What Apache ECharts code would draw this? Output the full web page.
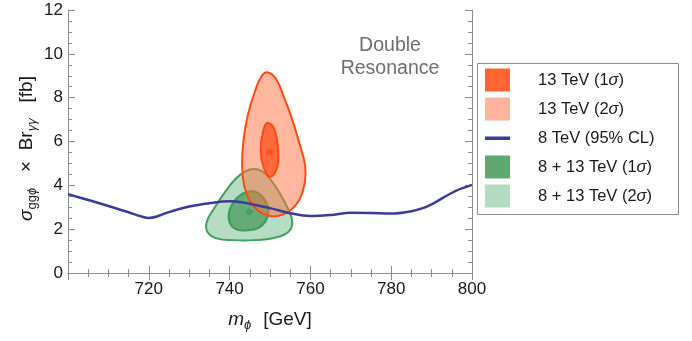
<!DOCTYPE html>
<html>
<head>
<meta charset="utf-8">
<script src="https://cdn.jsdelivr.net/npm/echarts@6/dist/echarts.min.js"></script>
<style>
  html, body { margin: 0; padding: 0; background: #fff; }
  #chart { width: 692px; height: 341px; }
</style>
</head>
<body>
<div id="chart"></div>
<script>
// 数据: m_phi [GeV] 与 sigma x Br [fb]
var massGrid = [700, 705, 710, 715, 718, 720, 722, 725, 730, 735, 740, 743, 746, 750, 755, 760, 765, 770, 775, 780, 785, 788, 790, 793, 796, 800];
var limit8TeV = [3.6, 3.33, 3.06, 2.77, 2.59, 2.51, 2.58, 2.78, 3.03, 3.18, 3.27, 3.23, 3.12, 2.96, 2.73, 2.6, 2.65, 2.75, 2.74, 2.71, 2.82, 2.97, 3.13, 3.45, 3.75, 4.02];

// 13 TeV 等高线
var contour13TeV2s = [[749.5, 9.15], [751.5, 8.85], [753.5, 8.0], [755.5, 7.0], [757.3, 5.9], [758.7, 4.9], [758.6, 4.1], [757.3, 3.35], [755, 2.85], [752, 2.6], [749.5, 2.62], [747, 2.85], [745, 3.3], [743.6, 4.0], [743.1, 4.9], [743.4, 6.0], [744.5, 7.2], [746.3, 8.3], [748, 9.0]];
var contour13TeV1s = [[749.6, 6.85], [751.2, 6.5], [752, 5.6], [751.8, 4.84], [750, 4.38], [748.4, 4.84], [747.7, 5.6], [748.4, 6.55]];
// 8 + 13 TeV 等高线
var contourComb2s = [[746, 4.75], [744, 4.65], [741.5, 4.3], [738.5, 3.6], [736, 2.9], [734.3, 2.3], [734.6, 1.85], [736.8, 1.58], [741, 1.5], [746, 1.5], [751, 1.6], [754.6, 1.88], [755.5, 2.35], [754.4, 2.95], [752.4, 3.65], [750, 4.3], [748, 4.65]];
var contourComb1s = [[745, 3.72], [743, 3.6], [741, 3.25], [739.8, 2.7], [740.3, 2.2], [742, 1.97], [744.5, 1.95], [747, 2.05], [749, 2.4], [749.6, 2.9], [748.5, 3.4], [746.8, 3.68]];
// 最佳拟合点
var best13TeV = [[750, 5.52]];
var bestComb = [[744.9, 2.78]];

var legendNames = ['13 TeV (1σ)', '13 TeV (2σ)', '8 TeV (95% CL)', '8 + 13 TeV (1σ)', '8 + 13 TeV (2σ)'];

var FONT = 'Liberation Sans';
var frameColor = '#8c8c8c';
var textColor = '#1a1a1a';

function contourSeries(name, pts, fill, stroke, z)
{
    return {
        type: 'custom',
        name: name,
        coordinateSystem: 'cartesian2d',
        data: [pts[0]],
        z: z,
        silent: true,
        renderItem: function(params, api)
        {
            return {
                type: 'polygon',
                shape: { points: pts.map(function(p){ return api.coord(p); }), smooth: 0.45 },
                style: { fill: fill, stroke: stroke, lineWidth: 2 }
            };
        }
    };
}

// 四边框的坐标轴(刻度朝内)
function frameAxis(pos, isX)
{
    return {
        type: 'value',
        position: pos,
        min: isX ? 700 : 0,
        max: isX ? 800 : 12,
        interval: isX ? 20 : 2,
        axisLine: { show: true, lineStyle: { color: frameColor, width: 1 } },
        axisTick: { show: true, inside: true, length: 7, lineStyle: { color: frameColor } },
        minorTick: { show: true, splitNumber: 4, length: 4, lineStyle: { color: frameColor } },
        splitLine: { show: false },
        axisLabel: { show: false }
    };
}

var chart = echarts.init(document.getElementById('chart'));

var mainTok = { fontFamily: FONT, fontSize: 19, color: textColor, lineHeight: 24 };
var subTok = { fontFamily: FONT, fontSize: 13, color: textColor, lineHeight: 13, verticalAlign: 'bottom' };

var xBottom = frameAxis('bottom', true);
xBottom.axisLabel = {
    show: true, margin: 8, color: textColor, fontFamily: FONT, fontSize: 17,
    formatter: function(v){ return v === 700 ? '' : String(v); }
};
xBottom.name = '{m|m}{subi|ϕ}{sp|}{t|[GeV]}';
xBottom.nameLocation = 'middle';
xBottom.nameGap = 35;
xBottom.nameMoveOverlap = false;
xBottom.nameTextStyle = {
    rich: {
        m: Object.assign({}, mainTok, { fontStyle: 'italic' }),
        t: mainTok,
        sp: { width: 12 },
        subi: Object.assign({}, subTok, { fontStyle: 'italic' })
    }
};

var yLeft = frameAxis('left', false);
yLeft.axisLabel = { show: true, margin: 5, color: textColor, fontFamily: FONT, fontSize: 17 };
yLeft.name = '{s|σ}{sub|gg}{subi|ϕ}{t|   ×  Br}{subi|γγ}{t|   [fb]}';
yLeft.nameLocation = 'middle';
yLeft.nameRotate = 90;
yLeft.nameGap = 29;
yLeft.nameMoveOverlap = false;
yLeft.nameTextStyle = {
    padding: [0, 14, 0, 0],
    rich: {
        s: Object.assign({}, mainTok, { fontStyle: 'italic' }),
        t: mainTok,
        sub: subTok,
        subi: Object.assign({}, subTok, { fontStyle: 'italic' })
    }
};

var legendTok = { fontFamily: FONT, fontSize: 16.5, color: textColor };

var option = {
    animation: false,
    backgroundColor: '#ffffff',
    grid: { left: 68, right: 220, top: 10, bottom: 68 },
    xAxis: [xBottom, frameAxis('top', true)],
    yAxis: [yLeft, frameAxis('right', false)],
    legend: {
        orient: 'vertical',
        left: 477,
        top: 63,
        padding: [5.5, 0, 6.5, 8],
        itemWidth: 25,
        itemHeight: 23,
        itemGap: 6,
        selectedMode: false,
        borderWidth: 0,
        itemStyle: { borderWidth: 0 },
        textStyle: {
            fontFamily: FONT, fontSize: 16.5, color: textColor,
            rich: {
                gap: { width: 23 },
                n: legendTok,
                i: Object.assign({}, legendTok, { fontStyle: 'italic' })
            }
        },
        formatter: function(name)
        {
            var parts = name.split('σ');
            var s = '{gap|}{n|' + parts[0] + '}';
            if (parts.length > 1) s += '{i|σ}{n|' + parts[1] + '}';
            return s;
        },
        data: [
            { name: legendNames[0], icon: 'rect', itemStyle: { color: '#ff6633' } },
            { name: legendNames[1], icon: 'rect', itemStyle: { color: '#ffb39d' } },
            // 线条图标: 用不可见的端点撑满整行高度
            { name: legendNames[2], icon: 'path://M0,0L0,0M0,10H25V13.5H0ZM25,23L25,23', itemStyle: { color: '#3b3b98' } },
            { name: legendNames[3], icon: 'rect', itemStyle: { color: '#5fa872' } },
            { name: legendNames[4], icon: 'rect', itemStyle: { color: '#b5dcc3' } }
        ]
    },
    graphic: [
        {
            // 图例外框
            type: 'rect',
            shape: { x: 477.5, y: 63.5, width: 201, height: 151 },
            style: { fill: 'none', stroke: '#8c8c8c', lineWidth: 1 },
            silent: true,
            z: 1
        },
        {
            type: 'text',
            x: 390,
            y: 57,
            style: {
                text: 'Double\nResonance',
                align: 'center',
                verticalAlign: 'middle',
                font: '19.5px "Liberation Sans"',
                lineHeight: 23,
                fill: '#6e6e6e'
            },
            z: 10
        }
    ],
    series: [
        contourSeries(legendNames[4], contourComb2s, '#b7dcc4', '#42a05b', 2),
        contourSeries(legendNames[3], contourComb1s, '#63ac78', '#3e9a56', 3),
        contourSeries(legendNames[1], contour13TeV2s, 'rgba(255,112,64,0.5)', '#ff4a14', 4),
        contourSeries(legendNames[0], contour13TeV1s, '#ff6a3c', '#ff4a14', 5),
        {
            type: 'line',
            name: legendNames[2],
            data: massGrid.map(function(m, i){ return [m, limit8TeV[i]]; }),
            smooth: 0.35,
            showSymbol: false,
            symbol: 'none',
            lineStyle: { color: '#3b3b98', width: 2.5 },
            itemStyle: { color: '#3b3b98' },
            z: 6
        },
        {
            type: 'scatter',
            data: best13TeV,
            symbol: 'diamond',
            symbolSize: 8,
            itemStyle: { color: '#ff4a14' },
            z: 7
        },
        {
            type: 'scatter',
            data: bestComb,
            symbol: 'diamond',
            symbolSize: 8,
            itemStyle: { color: '#3e9a56' },
            z: 7
        }
    ]
};

chart.setOption(option);
</script>
</body>
</html>
